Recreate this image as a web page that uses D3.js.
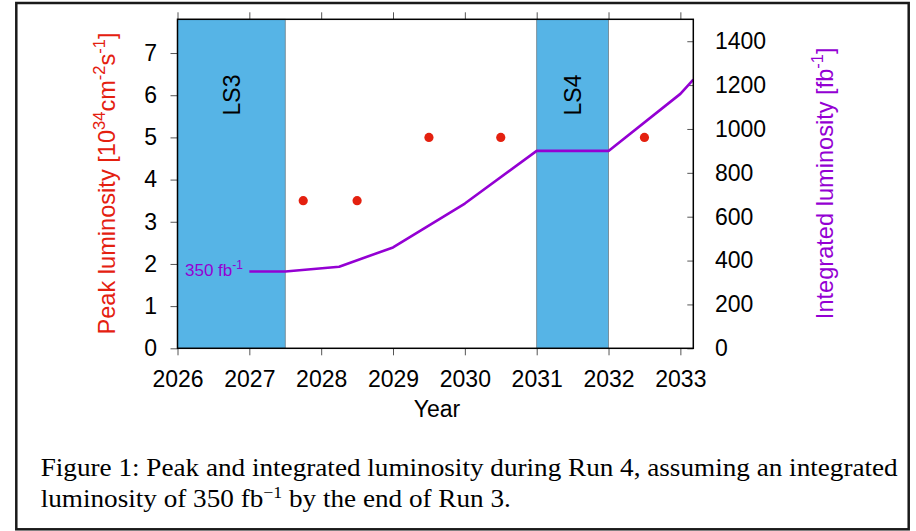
<!DOCTYPE html>
<html>
<head>
<meta charset="utf-8">
<script src="https://cdn.jsdelivr.net/npm/d3@7"></script>
<style>
  html, body { margin: 0; padding: 0; background: #fff; }
  svg { display: block; }
  .tick text { font-family: "Liberation Sans", Arial, Helvetica, sans-serif; font-size: 23px; fill: #000; }
  .tick line { stroke: #555; stroke-width: 1; }
</style>
</head>
<body>
<svg id="chart" width="916" height="531"></svg>
<script>
// Year ticks on the horizontal axis
const yearTicks = [2026, 2027, 2028, 2029, 2030, 2031, 2032, 2033];
// Peak luminosity ticks (left) and integrated luminosity ticks (right)
const peakTicks = [0, 1, 2, 3, 4, 5, 6, 7];
const intTicks = [0, 200, 400, 600, 800, 1000, 1200, 1400];

// Long shutdowns
const shutdownNames = ["LS3", "LS4"];
const shutdownStart = [2026, 2031];
const shutdownEnd = [2027.5, 2032];

// Peak luminosity per running year [10^34 cm^-2 s^-1]
const peakYears = [2027.75, 2028.5, 2029.5, 2030.5, 2032.5];
const peakLumi = [3.5, 3.5, 5, 5, 5];

// Integrated luminosity [fb^-1]
const intYears = [2027, 2027.5, 2028.25, 2029, 2030, 2031, 2032, 2033, 2033.18];
const intLumi = [350, 350, 372, 460, 660, 900, 900, 1160, 1225];

const RED = "#e4200f";
const PURPLE = "#9400d3";
const BLUE = "#56b4e6";
const FONT = '"Liberation Sans", Arial, Helvetica, sans-serif';

const svg = d3.select("#chart");

// outer figure box
svg.append("rect")
  .attr("x", 16.3).attr("y", 3).attr("width", 892.4).attr("height", 526.3)
  .attr("fill", "none").attr("stroke", "#1a1a1a").attr("stroke-width", 2.5);

const plot = { left: 177.5, right: 693.3, top: 19.3, bottom: 348.3 };

const x = d3.scaleLinear().domain([2026, 2033.18]).range([plot.left, plot.right]);
const yL = d3.scaleLinear().domain([0, 7.8]).range([plot.bottom, plot.top]);
const yR = d3.scaleLinear().domain([0, 1500]).range([plot.bottom, plot.top]);

svg.append("defs").append("clipPath").attr("id", "plotClip")
  .append("rect")
  .attr("x", plot.left).attr("y", plot.top)
  .attr("width", plot.right - plot.left).attr("height", plot.bottom - plot.top);

// shutdown bands
const shutdowns = shutdownNames.map((n, i) => ({ name: n, a: shutdownStart[i], b: shutdownEnd[i] }));
svg.append("g").selectAll("rect").data(shutdowns).join("rect")
  .attr("x", d => x(d.a)).attr("y", plot.top)
  .attr("width", d => x(d.b) - x(d.a)).attr("height", plot.bottom - plot.top)
  .attr("fill", BLUE).attr("stroke", "#6f7f88").attr("stroke-width", 0.8);

svg.append("g").selectAll("text").data(shutdowns).join("text")
  .attr("transform", d => `translate(${x((d.a + d.b) / 2) + 0.5},95) rotate(-90)`)
  .attr("text-anchor", "middle").attr("dominant-baseline", "central")
  .attr("font-family", FONT).attr("font-size", 23).attr("fill", "#000")
  .text(d => d.name);

// axes
const gx = svg.append("g").attr("transform", `translate(0,${plot.bottom})`)
  .call(d3.axisBottom(x).tickValues(yearTicks).tickFormat(d3.format("d")).tickSize(7).tickPadding(15.7));
gx.select(".domain").remove();

const gxt = svg.append("g").attr("transform", `translate(0,${plot.top})`)
  .call(d3.axisTop(x).tickValues(yearTicks).tickFormat("").tickSize(7));
gxt.select(".domain").remove();

const gyl = svg.append("g").attr("transform", `translate(${plot.left},0)`)
  .call(d3.axisLeft(yL).tickValues(peakTicks).tickFormat(d3.format("d")).tickSize(7).tickPadding(13.5));
gyl.select(".domain").remove();

const gyr = svg.append("g").attr("transform", `translate(${plot.right},0)`)
  .call(d3.axisRight(yR).tickValues(intTicks).tickFormat(d3.format("d")).tickSize(-6).tickPadding(21.7));
gyr.select(".domain").remove();
gyr.selectAll(".tick text").attr("text-anchor", "start");

// integrated luminosity curve
const intData = intYears.map((yr, i) => ({ x: yr, v: intLumi[i] }));
svg.append("path").datum(intData)
  .attr("clip-path", "url(#plotClip)")
  .attr("fill", "none").attr("stroke", PURPLE).attr("stroke-width", 2.6)
  .attr("stroke-linejoin", "round")
  .attr("d", d3.line().x(d => x(d.x)).y(d => yR(d.v)));

// peak luminosity points
const peakData = peakYears.map((yr, i) => ({ x: yr, v: peakLumi[i] }));
svg.append("g").selectAll("circle").data(peakData).join("circle")
  .attr("cx", d => x(d.x)).attr("cy", d => yL(d.v)).attr("r", 4.6)
  .attr("fill", RED);

// plot frame
svg.append("rect")
  .attr("x", plot.left).attr("y", plot.top)
  .attr("width", plot.right - plot.left).attr("height", plot.bottom - plot.top)
  .attr("fill", "none").attr("stroke", "#000").attr("stroke-width", 1.5);

// starting value annotation
const ann = svg.append("text")
  .attr("x", 185).attr("y", 276)
  .attr("font-family", FONT).attr("font-size", 17).attr("fill", PURPLE);
ann.append("tspan").text("350 fb");
ann.append("tspan").attr("font-size", 12).attr("dy", -7).text("-1");

// axis titles
svg.append("text")
  .attr("x", 437).attr("y", 417.3).attr("text-anchor", "middle")
  .attr("font-family", FONT).attr("font-size", 23).attr("fill", "#000")
  .text("Year");

function superLabel(parts, color, tx, ty) {
  const t = svg.append("text")
    .attr("transform", `translate(${tx},${ty}) rotate(-90)`)
    .attr("text-anchor", "middle")
    .attr("font-family", FONT).attr("font-size", 23.6).attr("fill", color);
  let up = false;
  parts.forEach(([s, sup]) => {
    const ts = t.append("tspan").text(s);
    if (sup && !up) { ts.attr("font-size", 16.5).attr("dy", -10); up = true; }
    else if (!sup && up) { ts.attr("dy", 10); up = false; }
    else if (sup) ts.attr("font-size", 16.5);
  });
  return t;
}

superLabel([["Peak luminosity [10", false], ["34", true], ["cm", false], ["-2", true],
            ["s", false], ["-1", true], ["]", false]], RED, 115, 183.5);
superLabel([["Integrated luminosity [fb", false], ["-1", true], ["]", false]], PURPLE, 833, 183.3);

// caption, set in a condensed serif to fit the box width
const SERIF = '"Liberation Serif", "Times New Roman", Times, serif';
const cap1 = svg.append("text")
  .attr("x", 40.7).attr("y", 476)
  .attr("font-family", SERIF).attr("font-size", 26).attr("fill", "#000")
  .text("Figure 1: Peak and integrated luminosity during Run 4, assuming an integrated");
const w1 = cap1.node().getComputedTextLength();
const target1 = 897.7 - 40.7;
cap1.attr("textLength", target1).attr("lengthAdjust", "spacingAndGlyphs");
const squeeze = target1 / w1;

const cap2 = svg.append("text")
  .attr("x", 40.7).attr("y", 506.5)
  .attr("font-family", SERIF).attr("font-size", 26).attr("fill", "#000");
cap2.append("tspan").text("luminosity of 350 fb");
cap2.append("tspan").attr("font-size", 17).attr("dy", -9).text("\u22121");
cap2.append("tspan").attr("dy", 9).text(" by the end of Run 3.");
const w2 = cap2.node().getComputedTextLength();
cap2.attr("textLength", w2 * squeeze).attr("lengthAdjust", "spacingAndGlyphs");
</script>
</body>
</html>
